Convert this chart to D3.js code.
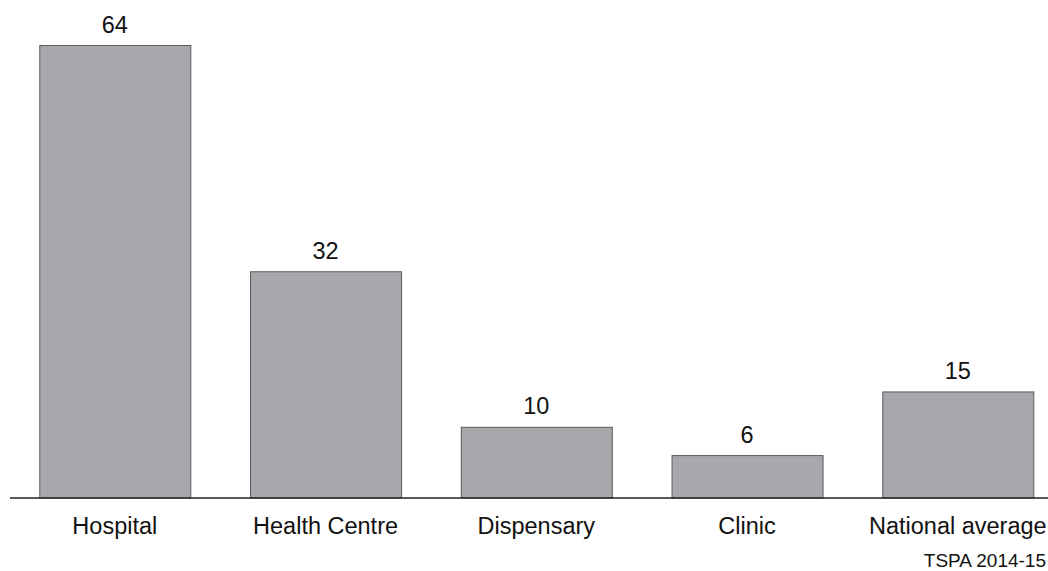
<!DOCTYPE html>
<html>
<head>
<meta charset="utf-8">
<script src="https://cdn.jsdelivr.net/npm/d3@7"></script>
<style>
  html, body { margin: 0; padding: 0; background: #fff; }
  svg { display: block; }
  text { font-family: "Liberation Sans", Arial, Helvetica, sans-serif; fill: #111; }
</style>
</head>
<body>
<svg id="chart" width="1048" height="571"></svg>
<script>
const categories = ["Hospital", "Health Centre", "Dispensary", "Clinic", "National average"];
const values = [64, 32, 10, 6, 15];
const valueLabels = ["64", "32", "10", "6", "15"];
const sourceNote = "TSPA 2014-15";

const W = 1048, H = 571;
const svg = d3.select("#chart");

const baseY = 497.5;
const x = d3.scaleBand()
  .domain(categories)
  .range([10, 1062.6])
  .paddingInner(0.2835)
  .paddingOuter(0.139);

const y = d3.scaleLinear()
  .domain([0, 64])
  .range([baseY, 45]);

const data = categories.map((c, i) => ({ c, v: values[i], label: valueLabels[i] }));

svg.append("g").selectAll("rect")
  .data(data)
  .join("rect")
  .attr("x", d => x(d.c) + 0.5)
  .attr("y", d => y(d.v) + 0.5)
  .attr("width", x.bandwidth())
  .attr("height", d => baseY - y(d.v))
  .attr("fill", "#a7a8ab")
  .attr("stroke", "#5a5b5d")
  .attr("stroke-width", 1);

svg.append("g").selectAll("text")
  .data(data)
  .join("text")
  .attr("x", d => x(d.c) + x.bandwidth() / 2)
  .attr("y", d => y(d.v) - 12.5)
  .attr("text-anchor", "middle")
  .attr("font-size", 23.5)
  .text(d => d.label);

// category axis
const xAxis = d3.axisBottom(x).tickSize(0).tickPadding(0);
const gx = svg.append("g")
  .attr("transform", `translate(0,${baseY})`)
  .call(xAxis);
gx.select(".domain").remove();
gx.selectAll("text")
  .attr("y", 36.5)
  .attr("dy", null)
  .attr("font-size", 23.5)
  .attr("fill", "#111")
  .style("font-family", "'Liberation Sans', Arial, sans-serif");

svg.append("line")
  .attr("x1", 10).attr("x2", W)
  .attr("y1", baseY + 0.5).attr("y2", baseY + 0.5)
  .attr("stroke", "#222")
  .attr("stroke-width", 1.6);

svg.append("text")
  .attr("x", 1046)
  .attr("y", 566.5)
  .attr("text-anchor", "end")
  .attr("font-size", 19)
  .text(sourceNote);
</script>
</body>
</html>
